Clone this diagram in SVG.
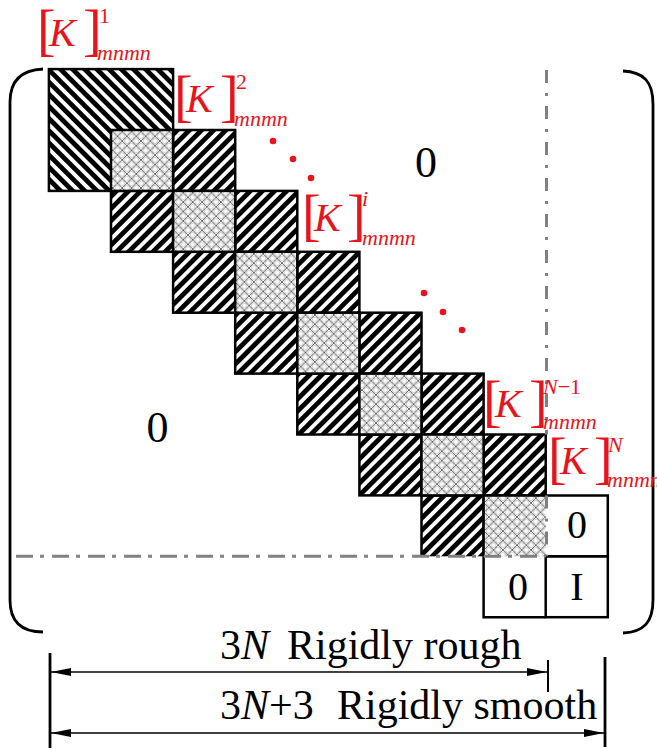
<svg xmlns="http://www.w3.org/2000/svg" width="657" height="751" viewBox="0 0 657 751">
<style>
.t{font-family:"Liberation Serif","Times New Roman",serif;}
.red{fill:#e8141c;}
.it{font-style:italic;}
.br{font-size:56px;}
.k{font-size:40px;font-style:italic;}
.sup{font-size:22px;}
.sub{font-size:22px;font-style:italic;}
.bd{stroke:#000;stroke-width:2.5;fill:none;}
.hatch{fill:url(#hR);stroke:#000;stroke-width:2.5;}
.cross{fill:url(#cx);stroke:#000;stroke-width:2.5;}
.dd{stroke:#808080;stroke-width:3;fill:none;}
.num{font-size:40px;text-anchor:middle;}
.big{font-size:44px;text-anchor:middle;}
.dim{font-size:42px;}
.dot{fill:#e8141c;}
.brk{stroke:#000;stroke-width:2.8;fill:none;}
</style>
<defs>
<pattern id="hR" width="8.6" height="10" patternUnits="userSpaceOnUse" patternTransform="rotate(45)">
<rect width="8.6" height="10" fill="#fff"/><rect width="4.8" height="10" fill="#000"/>
</pattern>
<pattern id="hL" width="8.6" height="10" patternUnits="userSpaceOnUse" patternTransform="rotate(-45)">
<rect width="8.6" height="10" fill="#fff"/><rect width="4.8" height="10" fill="#000"/>
</pattern>
<pattern id="cx" width="9.4" height="9.4" patternUnits="userSpaceOnUse">
<rect width="9.4" height="9.4" fill="#fff"/>
<path d="M0,0 L9.4,9.4 M9.4,0 L0,9.4" stroke="#444" stroke-width="0.8"/>
<circle cx="4.7" cy="0" r="2.4" fill="none" stroke="#aaa" stroke-width="0.6"/>
<circle cx="4.7" cy="9.4" r="2.4" fill="none" stroke="#aaa" stroke-width="0.6"/>
<circle cx="0" cy="4.7" r="2.4" fill="none" stroke="#aaa" stroke-width="0.6"/>
<circle cx="9.4" cy="4.7" r="2.4" fill="none" stroke="#aaa" stroke-width="0.6"/>
</pattern>
<marker id="arr" viewBox="0 0 20 8" refX="20" refY="4" markerWidth="20" markerHeight="8" orient="auto-start-reverse" markerUnits="userSpaceOnUse">
<path d="M0,0 L20,4 L0,8 z" fill="#000"/>
</marker>
</defs>

<!-- matrix brackets -->
<g id="brackets">
<path class="brk" d="M43,69 C22,70 10,80 10,102 L10,600 C10,622 22,632 43,632"/>
<path class="brk" d="M623,71 C644,72 653,82 653,104 L653,600 C653,622 644,632 623,633"/>
</g>

<!-- block 1 -->
<g id="block1"><rect x="48.9" y="69.1" width="124.2" height="121.8" fill="url(#hL)" stroke="#000" stroke-width="2.5"/></g>

<!-- staircase -->
<g id="hatchCells">
<rect class="hatch" x="173.1" y="130" width="62.1" height="60.9"/>
<rect class="hatch" x="111" y="190.9" width="62.1" height="60.9"/>
<rect class="hatch" x="235.2" y="190.9" width="62.1" height="60.9"/>
<rect class="hatch" x="173.1" y="251.8" width="62.1" height="60.9"/>
<rect class="hatch" x="297.3" y="251.8" width="62.1" height="60.9"/>
<rect class="hatch" x="235.2" y="312.7" width="62.1" height="60.9"/>
<rect class="hatch" x="359.4" y="312.7" width="62.1" height="60.9"/>
<rect class="hatch" x="297.3" y="373.6" width="62.1" height="60.9"/>
<rect class="hatch" x="421.5" y="373.6" width="62.1" height="60.9"/>
<rect class="hatch" x="359.4" y="434.5" width="62.1" height="60.9"/>
<rect class="hatch" x="483.6" y="434.5" width="62.1" height="60.9"/>
<rect x="421.5" y="495.4" width="62.1" height="60.9" fill="url(#hR)"/>
<path class="bd" d="M421.5,556.3 V495.4 H483.6 V556.3"/>
</g>
<g id="crossCells">
<rect class="cross" x="111" y="130" width="62.1" height="60.9"/>
<rect class="cross" x="173.1" y="190.9" width="62.1" height="60.9"/>
<rect class="cross" x="235.2" y="251.8" width="62.1" height="60.9"/>
<rect class="cross" x="297.3" y="312.7" width="62.1" height="60.9"/>
<rect class="cross" x="359.4" y="373.6" width="62.1" height="60.9"/>
<rect class="cross" x="421.5" y="434.5" width="62.1" height="60.9"/>
<rect x="483.6" y="495.4" width="62.1" height="60.9" fill="url(#cx)"/>
<path class="bd" d="M483.6,556.3 V495.4 H545.7"/>
</g>

<!-- boundary cells -->
<g id="cell0a"><path class="bd" d="M545.7,495.4 H607.8 V556.3 H545.7"/>
<text class="t num" x="577" y="538">0</text></g>
<g id="cell0b"><path class="bd" d="M483.6,556.3 V617.2 H545.7"/>
<text class="t num" x="518" y="600">0</text></g>
<g id="cellI"><rect class="bd" x="545.7" y="556.3" width="62.1" height="60.9"/>
<text class="t num" x="577" y="600">I</text></g>

<!-- dash-dot partition lines -->
<g id="partition">
<path class="dd" stroke-dasharray="13 10 3 10" d="M546.5,70 V434.5 M546.5,495.4 V556.3"/>
<path class="dd" stroke-dasharray="17 7 4 8" d="M16,556.3 H545.7"/>
</g>

<!-- zeros -->
<g id="zeroUpper"><text class="t big" x="426" y="177">0</text></g>
<g id="zeroLower"><text class="t big" x="157.5" y="442">0</text></g>

<!-- labels -->
<g id="label1" class="t red" transform="translate(37,49)">
<text class="br" x="0" y="0">[</text><text class="k" x="12" y="-3">K</text><text class="br" x="46" y="0">]</text>
<text class="sup" x="62" y="-26">1</text><text class="sub" x="60" y="11">mnmn</text>
</g>
<g id="label2" class="t red" transform="translate(174,115)">
<text class="br" x="0" y="0">[</text><text class="k" x="12" y="-3">K</text><text class="br" x="46" y="0">]</text>
<text class="sup" x="62" y="-26">2</text><text class="sub" x="60" y="11">mnmn</text>
</g>
<g id="labeli" class="t red" transform="translate(302,234)">
<text class="br" x="0" y="0">[</text><text class="k" x="12" y="-3">K</text><text class="br" x="45" y="0">]</text>
<text class="sup it" x="60" y="-28">i</text><text class="sub" x="60" y="11">mnmn</text>
</g>
<g id="labelN1" class="t red" transform="translate(483,420)">
<text class="br" x="0" y="0">[</text><text class="k" x="12" y="-3">K</text><text class="br" x="46" y="0">]</text>
<text class="sup" x="60" y="-26"><tspan class="it">N</tspan>−1</text><text class="sub" x="60" y="9">mnmn</text>
</g>
<g id="labelN" class="t red" transform="translate(548,477)">
<text class="br" x="0" y="0">[</text><text class="k" x="12" y="-3">K</text><text class="br" x="46" y="0">]</text>
<text class="sup it" x="60" y="-25">N</text><text class="sub" x="59" y="10">mnmn</text>
</g>

<!-- ellipsis dots -->
<g id="dots1"><circle class="dot" cx="273" cy="141" r="3.3"/><circle class="dot" cx="293" cy="159" r="3.3"/><circle class="dot" cx="311" cy="178" r="3.3"/></g>
<g id="dots2"><circle class="dot" cx="424" cy="293" r="3.3"/><circle class="dot" cx="443" cy="312" r="3.3"/><circle class="dot" cx="462" cy="330" r="3.3"/></g>

<!-- dimension lines -->
<g id="connectors">
<line x1="50" y1="653" x2="50" y2="748" stroke="#000" stroke-width="2.8"/>
<line x1="548" y1="660" x2="548" y2="692" stroke="#000" stroke-width="2"/>
<line x1="605" y1="657" x2="605" y2="747" stroke="#000" stroke-width="2.8"/>
<line x1="51" y1="672" x2="547" y2="672" stroke="#000" stroke-width="1.3" marker-start="url(#arr)" marker-end="url(#arr)"/>
<line x1="51" y1="733" x2="604" y2="733" stroke="#000" stroke-width="1.3" marker-start="url(#arr)" marker-end="url(#arr)"/>
</g>
<g id="dimText" class="t dim">
<text x="220" y="659">3<tspan class="it">N</tspan></text>
<text x="287" y="659">Rigidly rough</text>
<text x="220" y="719">3<tspan class="it">N</tspan>+3</text>
<text x="337" y="719">Rigidly smooth</text>
</g>
</svg>
